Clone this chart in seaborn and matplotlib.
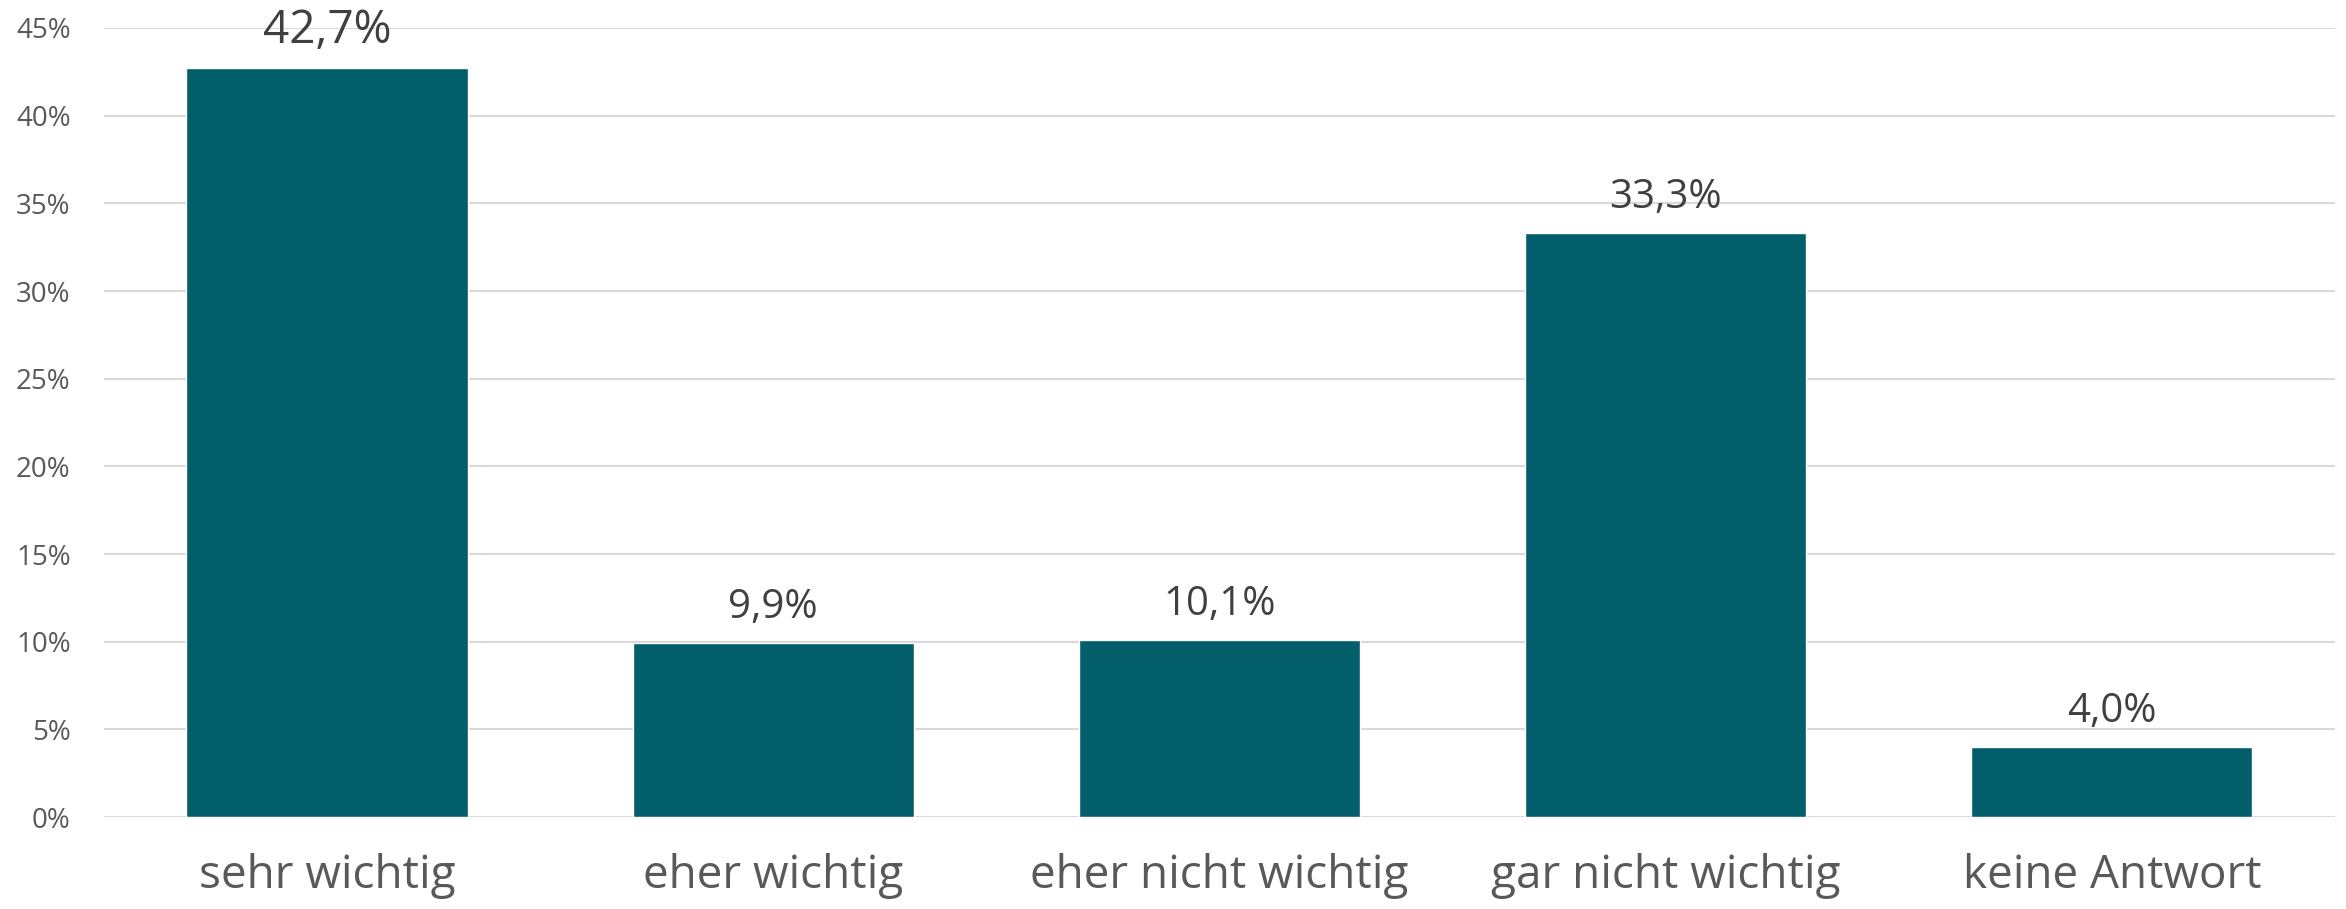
import matplotlib
matplotlib.use("Agg")
import matplotlib.pyplot as plt
import seaborn as sns
import pandas as pd
from matplotlib.ticker import FuncFormatter, MultipleLocator

categories = ["sehr wichtig", "eher wichtig", "eher nicht wichtig", "gar nicht wichtig", "keine Antwort"]
values = [42.7, 9.9, 10.1, 33.3, 4.0]
label_sizes = [33, 29, 29, 29, 29]

sns.set_theme(style="white")
plt.rcParams['font.family'] = ['Open Sans', 'DejaVu Sans']

df = pd.DataFrame({"Kategorie": categories, "Anteil": values})

fig = plt.figure(figsize=(23.46, 9.09), dpi=100)
ax = fig.add_axes([0.0443, 0.1012, 0.9510, 0.8680])

sns.barplot(data=df, x="Kategorie", y="Anteil", color="#025E6B", width=0.63,
            saturation=1, ax=ax, zorder=3)

ax.set_ylim(0, 45)
ax.set_xlim(-0.5, len(categories) - 0.5)
ax.yaxis.set_major_locator(MultipleLocator(5))
ax.yaxis.set_major_formatter(FuncFormatter(lambda v, p: f"{v:.0f}%"))
ax.grid(axis="y", color="#D9D9D9", linewidth=1.5, zorder=0)
ax.set_axisbelow(True)
for s in ax.spines.values():
    s.set_visible(False)

ax.set_xlabel("")
ax.set_ylabel("")
ax.tick_params(axis="y", length=0, pad=24, labelsize=20, labelcolor="#595959")
ax.tick_params(axis="x", length=0, pad=26, labelsize=33, labelcolor="#595959")

for i, (v, fs) in enumerate(zip(values, label_sizes)):
    ax.annotate(f"{v:.1f}%".replace(".", ","), xy=(i, v), xytext=(0, 18),
                textcoords="offset points", ha="center", va="baseline",
                fontsize=fs, color="#404040", zorder=4)

fig.savefig("out.png", dpi=100)
